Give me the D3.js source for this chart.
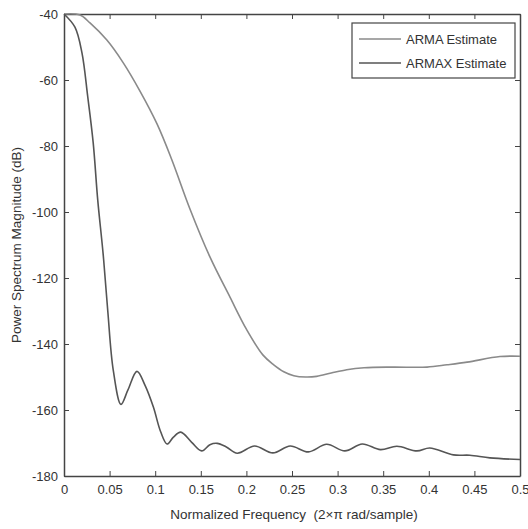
<!DOCTYPE html>
<html>
<head>
<meta charset="utf-8">
<script src="https://cdnjs.cloudflare.com/ajax/libs/d3/7.8.5/d3.min.js"></script>
<style>
body { margin: 0; background: #fff; }
text { font-family: "Liberation Sans", Arial, sans-serif; fill: #333; }
.axis path, .axis line { stroke: #444; }
.axis text { font-size: 13px; fill: #333; }
</style>
</head>
<body>
<svg id="chart" width="528" height="529"></svg>
<script>
// values (frequency, dB)
var armaFreq = [0, 0.0175, 0.0285, 0.047, 0.065, 0.083, 0.102, 0.118, 0.138, 0.160, 0.182, 0.200, 0.218, 0.230, 0.241, 0.252, 0.265, 0.277, 0.293, 0.310, 0.329, 0.360, 0.398, 0.420, 0.442, 0.478, 0.5];
var armaDb   = [-40, -40.3, -42.7, -47.9, -54.8, -63.2, -73.3, -84.0, -99.0, -113.6, -125.8, -135.5, -143.3, -146.3, -148.4, -149.6, -150, -149.8, -148.8, -147.8, -147.2, -147, -147, -146.3, -145.5, -143.8, -143.7];

var armaxFreq = [0, 0.012, 0.0197, 0.026, 0.032, 0.037, 0.043, 0.048, 0.054, 0.0625, 0.070, 0.080, 0.089, 0.098, 0.106, 0.113, 0.120, 0.128, 0.140, 0.151, 0.160, 0.168, 0.178, 0.19, 0.209, 0.229, 0.248, 0.268, 0.288, 0.308, 0.327, 0.347, 0.365, 0.387, 0.401, 0.427, 0.445, 0.467, 0.5];
var armaxDb   = [-40, -44, -51.8, -65, -79, -96.4, -113, -130, -147.9, -158.3, -154, -148.3, -152.6, -159.1, -166.6, -170.3, -168.2, -166.7, -169.8, -172.4, -170.5, -170.1, -171.2, -173.1, -170.9, -173, -170.9, -172.7, -170.4, -172.4, -170.3, -172, -171, -172.4, -171.5, -173.6, -173.7, -174.5, -175];

var xTicks = [0, 0.05, 0.1, 0.15, 0.2, 0.25, 0.3, 0.35, 0.4, 0.45, 0.5];
var yTicks = [-40, -60, -80, -100, -120, -140, -160, -180];
var seriesNames = ["ARMA Estimate", "ARMAX Estimate"];
var seriesColors = ["#8a8a8a", "#555555"];

var svg = d3.select("#chart");
var plotL = 64, plotR = 520, plotT = 14, plotB = 476;

var x = d3.scaleLinear().domain([0, 0.5]).range([plotL, plotR]);
var y = d3.scaleLinear().domain([-180, -40]).range([plotB, plotT]);

var fmtX = d => d === 0 ? "0" : String(d);
var fmtY = d => String(d);

svg.append("g").attr("class", "axis")
  .attr("transform", `translate(0,${plotB})`)
  .call(d3.axisBottom(x).tickValues(xTicks).tickSizeInner(-5).tickSizeOuter(0).tickPadding(9).tickFormat(fmtX));
svg.append("g").attr("class", "axis")
  .attr("transform", `translate(0,${plotT})`)
  .call(d3.axisTop(x).tickValues(xTicks).tickSizeInner(-5).tickSizeOuter(0).tickFormat(""));
svg.append("g").attr("class", "axis")
  .attr("transform", `translate(${plotL},0)`)
  .call(d3.axisLeft(y).tickValues(yTicks).tickSizeInner(-5).tickSizeOuter(0).tickPadding(6).tickFormat(fmtY));
svg.append("g").attr("class", "axis")
  .attr("transform", `translate(${plotR},0)`)
  .call(d3.axisRight(y).tickValues(yTicks).tickSizeInner(-5).tickSizeOuter(0).tickFormat(""));

svg.selectAll(".axis path").attr("stroke-width", 1.5);

var line = d3.line().curve(d3.curveCatmullRom.alpha(0.5)).x(d => x(d[0])).y(d => y(d[1]));

var series = [d3.zip(armaFreq, armaDb), d3.zip(armaxFreq, armaxDb)];
svg.selectAll(".series").data(series).enter().append("path")
  .attr("class", "series")
  .attr("fill", "none")
  .attr("stroke", (d, i) => seriesColors[i])
  .attr("stroke-width", 1.6)
  .attr("d", line);

// legend
var lg = svg.append("g").attr("transform", "translate(352,23)");
lg.append("rect").attr("width", 163).attr("height", 55)
  .attr("fill", "#fff").attr("stroke", "#444").attr("stroke-width", 1.2);
seriesNames.forEach(function(name, i) {
  var yy = 16 + i * 24;
  lg.append("line").attr("x1", 7).attr("x2", 49).attr("y1", yy).attr("y2", yy)
    .attr("stroke", seriesColors[i]).attr("stroke-width", 1.6);
  lg.append("text").attr("x", 54).attr("y", yy + 5).attr("font-size", 13).text(name);
});

svg.append("text")
  .attr("x", (plotL + plotR) / 2 + 2).attr("y", 519)
  .attr("text-anchor", "middle").attr("font-size", 13.5)
  .style("white-space", "pre")
  .text("Normalized Frequency  (2\u00d7\u03c0 rad/sample)");
svg.append("text")
  .attr("transform", `translate(21,${(plotT + plotB) / 2}) rotate(-90)`)
  .attr("text-anchor", "middle").attr("font-size", 13.5)
  .text("Power Spectrum Magnitude (dB)");
</script>
</body>
</html>
